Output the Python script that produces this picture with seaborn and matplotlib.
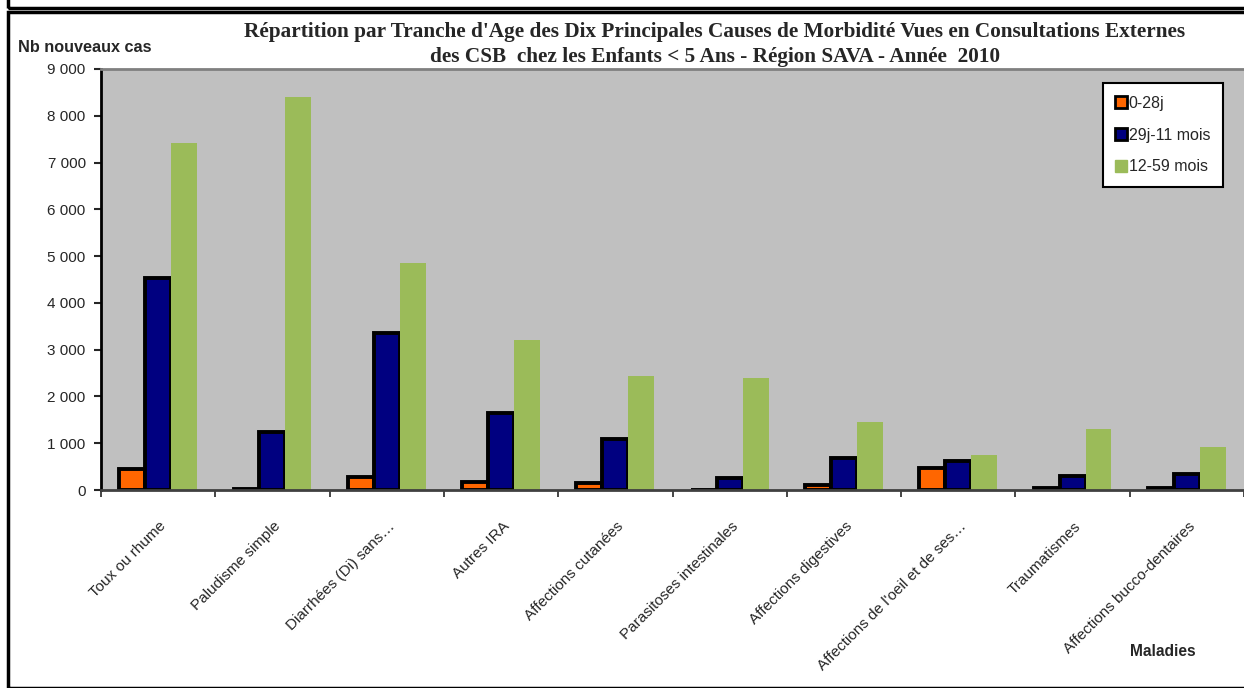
import numpy as np
import pandas as pd
import seaborn as sns
import matplotlib
matplotlib.use('Agg')
import matplotlib.pyplot as plt
import matplotlib.transforms as mtransforms
from matplotlib.patches import Rectangle
from matplotlib.lines import Line2D
from matplotlib.ticker import FuncFormatter, FixedLocator

maladies = ["Toux ou rhume", "Paludisme simple", "Diarrhées (Di) sans…", "Autres IRA",
            "Affections cutanées", "Parasitoses intestinales", "Affections digestives",
            "Affections de l'oeil et de ses…", "Traumatismes", "Affections bucco-dentaires"]
tranches = ["0-28j", "29j-11 mois", "12-59 mois"]
v_0_28j = [440, 30, 270, 180, 150, 10, 100, 480, 40, 50]
v_29j_11m = [4530, 1240, 3350, 1640, 1080, 260, 680, 620, 300, 340]
v_12_59m = [7410, 8400, 4850, 3200, 2440, 2390, 1450, 750, 1300, 920]
couleurs = ["#FF6600", "#000080", "#9BBB59"]

df = pd.DataFrame({
    "maladie": maladies * 3,
    "tranche": [tranches[0]] * 10 + [tranches[1]] * 10 + [tranches[2]] * 10,
    "cas": v_0_28j + v_29j_11m + v_12_59m,
})

sns.set_style("white")
plt.rcParams['font.family'] = ['Liberation Sans', 'DejaVu Sans']

fig = plt.figure(figsize=(12.44, 6.88), dpi=100)
ax = fig.add_axes([101 / 1244, 1 - 490 / 688, 1 - 101 / 1244, (490 - 69) / 688])

sns.barplot(data=df, x="maladie", y="cas", hue="tranche", palette=couleurs,
            width=0.68, saturation=1, ax=ax, legend=False)

# bordures noires pour les deux premières tranches
for i, cont in enumerate(ax.containers):
    for bar in cont:
        if i < 2:
            bar.set_edgecolor("black")
            bar.set_linewidth(2.8)
        else:
            bar.set_linewidth(0)

ax.set_facecolor("#C0C0C0")
ax.set_xlim(-0.5, 9.5)
ax.set_ylim(0, 9000)
ax.set_yticks(np.arange(0, 9001, 1000))
ax.yaxis.set_major_formatter(FuncFormatter(lambda v, p: f"{int(v):,}".replace(",", " ")))
ax.tick_params(axis="y", left=True, labelsize=11, length=5, width=1.5, direction="out", pad=6)

ax.xaxis.set_major_locator(FixedLocator(np.arange(-0.5, 9.6, 1)))
ax.xaxis.set_minor_locator(FixedLocator(np.arange(0, 10, 1)))
ax.set_xticklabels([""] * 11)
ax.set_xticklabels(maladies, minor=True, rotation=45, ha="right", rotation_mode="anchor",
                   fontsize=11)
ax.tick_params(axis="x", which="major", bottom=True, length=5, width=1.2, direction="out")
ax.tick_params(axis="x", which="minor", bottom=False, length=0, pad=21)

ax.set_xlabel("")
ax.set_ylabel("")
ax.spines["top"].set_color("#808080")
ax.spines["top"].set_linewidth(2)
ax.spines["right"].set_visible(False)
ax.spines["left"].set_color("black")
ax.spines["left"].set_linewidth(2)
ax.spines["bottom"].set_color("#404040")
ax.spines["bottom"].set_linewidth(2)

# petit décalage des étiquettes vers la droite
offset = mtransforms.ScaledTranslation(1 / 100, 0, fig.dpi_scale_trans)
for lab in ax.get_xticklabels(minor=True):
    lab.set_transform(lab.get_transform() + offset)

titre_font = dict(ha="center", va="center", fontsize=15.3, fontweight="bold",
                  family="Liberation Serif")
fig.text(715 / 1244, 1 - 32 / 688,
         "Répartition par Tranche d'Age des Dix Principales Causes de Morbidité Vues en Consultations Externes",
         **titre_font)
fig.text(715 / 1244, 1 - 57 / 688,
         "des CSB  chez les Enfants < 5 Ans - Région SAVA - Année  2010", **titre_font)
fig.text(18 / 1244, 1 - 47 / 688, "Nb nouveaux cas", ha="left", va="center",
         fontsize=11.7, fontweight="bold")
fig.text(1163 / 1244, 1 - 652 / 688, "Maladies", ha="center", va="center",
         fontsize=11.2, fontweight="bold")

handles = [
    Line2D([], [], marker="s", linestyle="", markerfacecolor=couleurs[0],
           markeredgecolor="black", markeredgewidth=2, markersize=8),
    Line2D([], [], marker="s", linestyle="", markerfacecolor=couleurs[1],
           markeredgecolor="black", markeredgewidth=2, markersize=8),
    Line2D([], [], marker="s", linestyle="", markerfacecolor=couleurs[2],
           markeredgecolor=couleurs[2], markersize=8),
]
leg = ax.legend(handles, tranches, loc="upper left", bbox_to_anchor=(1103 / 1244, 1 - 83 / 688),
                bbox_transform=fig.transFigure, frameon=True, fancybox=False,
                fontsize=11.5, handlelength=0.6, handletextpad=0.2, labelspacing=1.05,
                borderpad=0.8, borderaxespad=0)
leg.get_frame().set_edgecolor("black")
leg.get_frame().set_linewidth(1.5)
leg.get_frame().set_facecolor("white")
leg.get_frame().set_alpha(1)

# cadres de la page
fig.patches.append(Rectangle((8 / 1244, 0), 1, 1 - 12 / 688, transform=fig.transFigure,
                             fill=False, edgecolor="black", linewidth=2.5))
fig.patches.append(Rectangle((8 / 1244, 1 - 8 / 688), 1, 0.1, transform=fig.transFigure,
                             fill=False, edgecolor="black", linewidth=2.5))

fig.savefig("out.png", dpi=100)
